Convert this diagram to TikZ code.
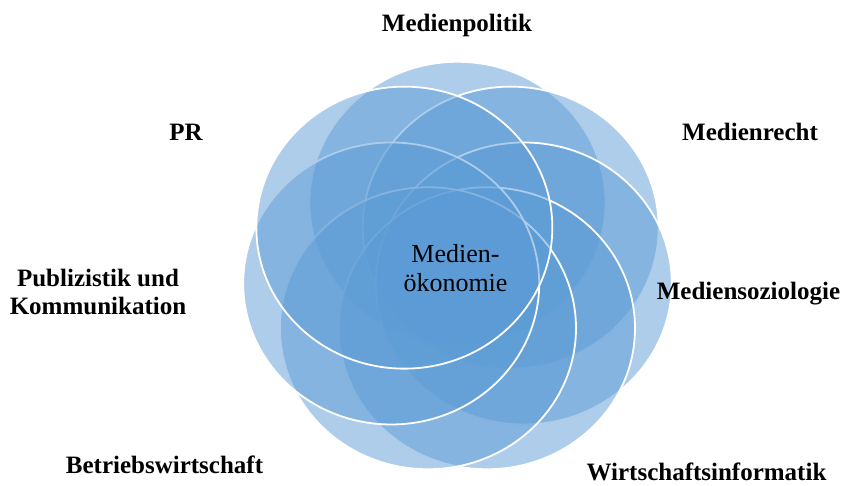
\documentclass[tikz,border=0pt]{standalone}
\usepackage{fontspec}
\setmainfont{Liberation Serif}
\usetikzlibrary{shapes.geometric}
\definecolor{petalblue}{HTML}{5B9BD5}
\tikzset{
	petal/.style={ellipse, draw=white, line width=1.8pt, fill=petalblue, fill opacity=0.5,
		minimum width=296pt, minimum height=282pt, inner sep=0pt},
	field/.style={font=\fontsize{25}{28}\selectfont\bfseries, anchor=base, align=center, inner sep=0pt},
	core/.style={font=\fontsize{26}{29}\selectfont, anchor=base, align=center, inner sep=0pt}
}
\begin{document}
\begin{tikzpicture}[x=1pt,y=1pt]
		\useasboundingbox (0,0) rectangle (846,486);
		\def\cx{457.5}	% centre of the flower
		\def\cy{217.2}
		\def\dx{68}
		\def\dy{66}
		% petals, clockwise from the top
			\foreach \name [count=\k from 0] in {politik,recht,soziologie,informatik,bwl,publizistik,pr}{
				\pgfmathsetmacro\ang{90-\k*360/7}
				\node [petal] (\name) at ({\cx+\dx*cos(\ang)},{\cy+\dy*sin(\ang)}) {};
			}
		% centre (base = last line)
			\node [core] (oekonomie) at (455.5,194) {Medien-\\ökonomie};
		% fields
			\node [field] (lpolitik) at (457,454) {Medienpolitik};
			\node [field] (lrecht) at (750,345) {Medienrecht};
			\node [field] (lsoziologie) at (748.5,186) {Mediensoziologie};
			\node [field] (linformatik) at (706.5,5) {Wirtschaftsinformatik};
			\node [field] (lbwl) at (164.5,12) {Betriebswirtschaft};
			\node [field] (lpublizistik) at (98,171) {Publizistik und\\Kommunikation};
			\node [field] (lpr) at (186,345) {PR};
	\end{tikzpicture}
\end{document}
